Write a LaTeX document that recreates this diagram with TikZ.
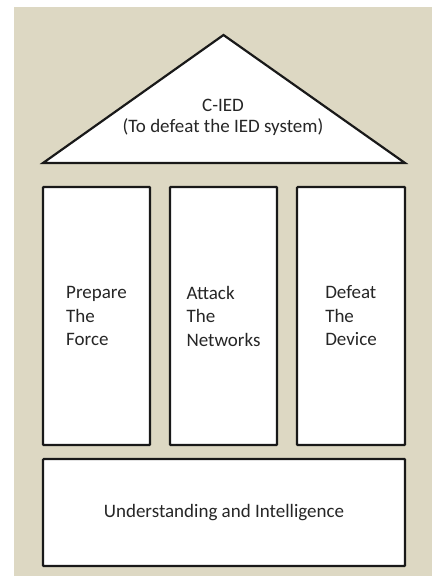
\documentclass[tikz,border=0pt]{standalone}
\usepackage{fontspec}
\setmainfont{Carlito}
\definecolor{bgtan}{HTML}{DDD8C3}
\begin{document}
\begin{tikzpicture}[x=1pt,y=-1pt,
  block/.style={draw=black!90, fill=white, line width=2.2pt, rounded corners=0.8pt},
  lbl/.style={font=\fontsize{19}{23.5}\selectfont, align=left, text=black!85},
  rooflbl/.style={font=\fontsize{19}{21}\selectfont, align=center, inner sep=0pt, text=black!85},
  ]
\useasboundingbox (0,0) rectangle (432,576);
\fill[bgtan] (14,7) rectangle (432,576);
\coordinate (apex) at (223.5,35);
\coordinate (bl) at (43,163);
\coordinate (br) at (405,163);
\draw[block, rounded corners=0pt, line join=miter] (bl) -- (apex) -- (br) -- cycle;
\node[rooflbl] (cied) at (223,117.5) {C-IED\\(To defeat the IED system)};
\node[block, lbl, minimum width=107pt, minimum height=258pt] (p1) at (96.5,316) {Prepare\\The\\Force};
\node[block, lbl, minimum width=107pt, minimum height=258pt] (p2) at (223.5,316) {Attack\\The\\Networks};
\node[block, lbl, minimum width=108pt, minimum height=258pt] (p3) at (351,316) {Defeat\\The\\Device};
\node[block, lbl, minimum width=362pt, minimum height=107pt] (base) at (224,512.5) {Understanding and Intelligence};
\end{tikzpicture}
\end{document}
